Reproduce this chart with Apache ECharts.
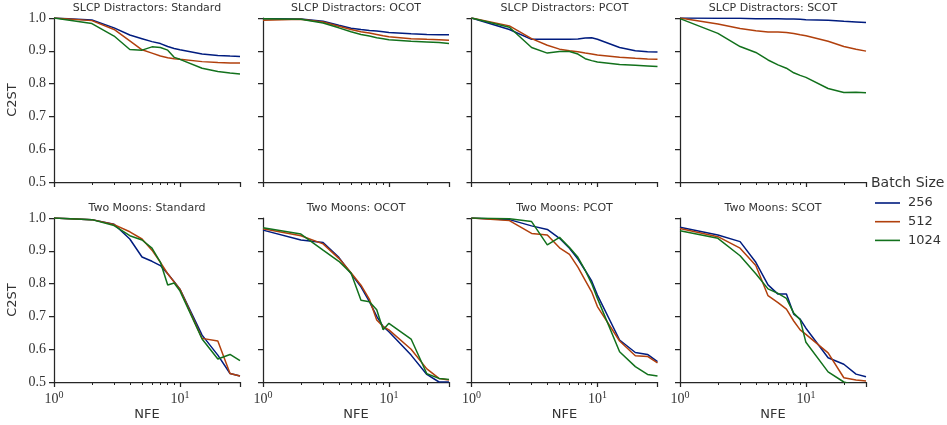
<!DOCTYPE html>
<html>
<head>
<meta charset="utf-8">
<script src="https://cdn.jsdelivr.net/npm/echarts@6/dist/echarts.min.js"></script>
<style>
  html, body { margin: 0; padding: 0; background: #fff; }
  #chart { width: 947px; height: 425px; }
</style>
</head>
<body>
<div id="chart"></div>
<script>
// Number of function evaluations at which C2ST was measured
const nfe = [1, 2, 3, 4, 5, 6, 7, 8, 9, 10, 15, 20, 25, 30];

const batchSizes = ['256', '512', '1024'];
const panelTitles = [
  'SLCP Distractors: Standard', 'SLCP Distractors: OCOT',
  'SLCP Distractors: PCOT', 'SLCP Distractors: SCOT',
  'Two Moons: Standard', 'Two Moons: OCOT',
  'Two Moons: PCOT', 'Two Moons: SCOT'
];

// SLCP Distractors
const slcpStd256  = [1.0, 0.994, 0.970, 0.948, 0.937, 0.928, 0.922, 0.913, 0.907, 0.903, 0.890, 0.886, 0.884, 0.883];
const slcpStd512  = [1.0, 0.992, 0.965, 0.930, 0.903, 0.893, 0.884, 0.879, 0.876, 0.874, 0.867, 0.864, 0.863, 0.863];
const slcpStd1024 = [1.0, 0.983, 0.945, 0.904, 0.902, 0.912, 0.910, 0.902, 0.880, 0.874, 0.847, 0.837, 0.832, 0.829];

const slcpOcot256  = [0.998, 0.997, 0.990, 0.978, 0.969, 0.965, 0.962, 0.960, 0.958, 0.956, 0.952, 0.950, 0.949, 0.949];
const slcpOcot512  = [0.993, 0.996, 0.988, 0.975, 0.965, 0.958, 0.954, 0.950, 0.946, 0.943, 0.937, 0.935, 0.934, 0.932];
const slcpOcot1024 = [0.998, 0.996, 0.985, 0.970, 0.958, 0.950, 0.945, 0.940, 0.937, 0.934, 0.929, 0.927, 0.925, 0.922];

const slcpPcot256  = [1.0, 0.965, 0.935, 0.935, 0.935, 0.935, 0.936, 0.939, 0.940, 0.935, 0.910, 0.900, 0.897, 0.896];
const slcpPcot512  = [1.0, 0.976, 0.937, 0.917, 0.905, 0.900, 0.897, 0.893, 0.890, 0.887, 0.880, 0.877, 0.875, 0.874];
const slcpPcot1024 = [1.0, 0.972, 0.910, 0.893, 0.898, 0.898, 0.890, 0.876, 0.870, 0.866, 0.858, 0.856, 0.854, 0.852];

const slcpScot256  = [1.0, 0.999, 0.999, 0.998, 0.998, 0.998, 0.997, 0.997, 0.996, 0.995, 0.993, 0.990, 0.988, 0.986];
const slcpScot512  = [1.0, 0.982, 0.968, 0.961, 0.957, 0.957, 0.956, 0.953, 0.949, 0.946, 0.929, 0.913, 0.905, 0.899];
const slcpScot1024 = [0.998, 0.953, 0.913, 0.895, 0.872, 0.857, 0.847, 0.833, 0.825, 0.819, 0.785, 0.773, 0.774, 0.772];

// Two Moons
const moonsStd256  = [1.0, 0.995, 0.981, 0.936, 0.881, 0.868, 0.855, 0.830, 0.806, 0.783, 0.643, 0.582, 0.526, 0.518];
const moonsStd512  = [1.0, 0.995, 0.980, 0.958, 0.936, 0.902, 0.865, 0.830, 0.805, 0.783, 0.633, 0.625, 0.526, 0.518];
const moonsStd1024 = [1.0, 0.995, 0.977, 0.946, 0.933, 0.908, 0.865, 0.796, 0.802, 0.778, 0.631, 0.570, 0.584, 0.565];

const moonsOcot256  = [0.963, 0.933, 0.925, 0.880, 0.831, 0.790, 0.745, 0.700, 0.669, 0.653, 0.582, 0.523, 0.500, 0.500];
const moonsOcot512  = [0.967, 0.946, 0.921, 0.877, 0.833, 0.795, 0.752, 0.689, 0.669, 0.659, 0.600, 0.540, 0.511, 0.506];
const moonsOcot1024 = [0.970, 0.951, 0.902, 0.868, 0.832, 0.749, 0.745, 0.720, 0.659, 0.679, 0.631, 0.525, 0.511, 0.508];

const moonsPcot256  = [1.0, 0.995, 0.976, 0.965, 0.938, 0.908, 0.875, 0.840, 0.808, 0.765, 0.628, 0.590, 0.584, 0.562];
const moonsPcot512  = [1.0, 0.992, 0.953, 0.948, 0.909, 0.889, 0.850, 0.810, 0.775, 0.730, 0.625, 0.580, 0.578, 0.558];
const moonsPcot1024 = [1.0, 0.998, 0.989, 0.918, 0.941, 0.910, 0.880, 0.840, 0.800, 0.755, 0.592, 0.547, 0.523, 0.518];

const moonsScot256  = [0.972, 0.948, 0.928, 0.865, 0.796, 0.768, 0.768, 0.707, 0.692, 0.664, 0.574, 0.554, 0.524, 0.516];
const moonsScot512  = [0.968, 0.943, 0.908, 0.855, 0.763, 0.742, 0.722, 0.686, 0.659, 0.645, 0.589, 0.513, 0.506, 0.503];
const moonsScot1024 = [0.961, 0.938, 0.885, 0.830, 0.784, 0.770, 0.755, 0.710, 0.690, 0.621, 0.531, 0.500, 0.490, 0.485];

const panelSeries = [
  [slcpStd256, slcpStd512, slcpStd1024],
  [slcpOcot256, slcpOcot512, slcpOcot1024],
  [slcpPcot256, slcpPcot512, slcpPcot1024],
  [slcpScot256, slcpScot512, slcpScot1024],
  [moonsStd256, moonsStd512, moonsStd1024],
  [moonsOcot256, moonsOcot512, moonsOcot1024],
  [moonsPcot256, moonsPcot512, moonsPcot1024],
  [moonsScot256, moonsScot512, moonsScot1024]
];

const colors = ['#001c7f', '#b1400d', '#12711c'];
const axisColor = '#262626';
const textColor = '#333333';
const sansFont = '"DejaVu Sans", sans-serif';
const serifFont = '"Liberation Serif", "DejaVu Serif", serif';

// Panel layout
const colLeft = [54, 263, 471.5, 680];
const rowTop = [18, 218];
const panelW = 186;
const panelH = 164;
const xMin = 1, xMax = 30;

// Label only exact powers of ten, as 10^n
function decadeLabel(v) {
  const e = Math.log10(v);
  if (Math.abs(e - Math.round(e)) > 1e-9) return '';
  return '{b|10}{s|' + Math.round(e) + '}';
}

const grids = [], xAxes = [], yAxes = [], series = [], titles = [];

panelSeries.forEach((group, p) => {
  const row = Math.floor(p / 4), col = p % 4;
  const bottomRow = row === 1;
  grids.push({ left: colLeft[col], top: rowTop[row], width: panelW, height: panelH, containLabel: false });

  titles.push({
    text: panelTitles[p],
    left: colLeft[col] + panelW / 2,
    top: rowTop[row] - 15,
    textAlign: 'center',
    padding: 0,
    textStyle: { fontFamily: sansFont, fontSize: 11, fontWeight: 'normal', color: textColor }
  });

  // log x axis: decade ticks with 10^n labels, minor ticks at 2..9 and 20
  xAxes.push({
    type: 'log', logBase: 10, gridIndex: p, min: xMin, max: xMax, position: 'bottom',
    axisLine: { show: true, onZero: false, lineStyle: { color: axisColor, width: 1.25 } },
    axisTick: { show: true, inside: false, length: 5, lineStyle: { color: axisColor, width: 1.25 } },
    minorTick: { show: true, splitNumber: 9, length: 3, lineStyle: { color: axisColor, width: 1 } },
    axisLabel: {
      show: bottomRow, margin: 8, formatter: decadeLabel,
      rich: {
        b: { fontFamily: serifFont, fontSize: 14, color: textColor },
        s: { fontFamily: serifFont, fontSize: 10, color: textColor, verticalAlign: 'top', padding: [0, 0, 9, 0] }
      }
    },
    splitLine: { show: false }, minorSplitLine: { show: false },
    name: bottomRow ? 'NFE' : '', nameLocation: 'middle', nameGap: 26,
    nameTextStyle: { fontFamily: sansFont, fontSize: 13, color: textColor }
  });

  yAxes.push({
    type: 'value', gridIndex: p, min: 0.5, max: 1.0, interval: 0.1,
    axisLine: { show: true, lineStyle: { color: axisColor, width: 1.25 } },
    axisTick: { show: true, inside: false, length: 5, lineStyle: { color: axisColor, width: 1.25 } },
    axisLabel: {
      show: col === 0, margin: 8, formatter: v => v.toFixed(1),
      fontFamily: serifFont, fontSize: 14, color: textColor
    },
    splitLine: { show: false },
    name: col === 0 ? 'C2ST' : '', nameLocation: 'middle', nameGap: 35, nameRotate: 90,
    nameTextStyle: { fontFamily: sansFont, fontSize: 13, color: textColor }
  });

  group.forEach((vals, s) => {
    series.push({
      name: batchSizes[s], type: 'line', xAxisIndex: p, yAxisIndex: p,
      data: nfe.map((n, i) => [n, vals[i]]),
      symbol: 'none', clip: true, animation: false,
      lineStyle: { color: colors[s], width: 1.5 },
      itemStyle: { color: colors[s] }
    });
  });
});

titles.push({
  text: 'Batch Size', left: 871, top: 176, padding: 0,
  textStyle: { fontFamily: sansFont, fontSize: 14, fontWeight: 'normal', color: textColor }
});

const chart = echarts.init(document.getElementById('chart'), null, { renderer: 'canvas' });
chart.setOption({
  animation: false,
  color: colors,
  title: titles,
  grid: grids,
  xAxis: xAxes,
  yAxis: yAxes,
  legend: {
    data: batchSizes, orient: 'vertical', left: 875, top: 195,
    icon: 'rect', itemWidth: 25, itemHeight: 1.6, itemGap: 2.7, padding: 0,
    textStyle: { fontFamily: sansFont, fontSize: 13, color: textColor, lineHeight: 16, padding: [0, 0, 0, 3] }
  },
  series: series
});
</script>
</body>
</html>
